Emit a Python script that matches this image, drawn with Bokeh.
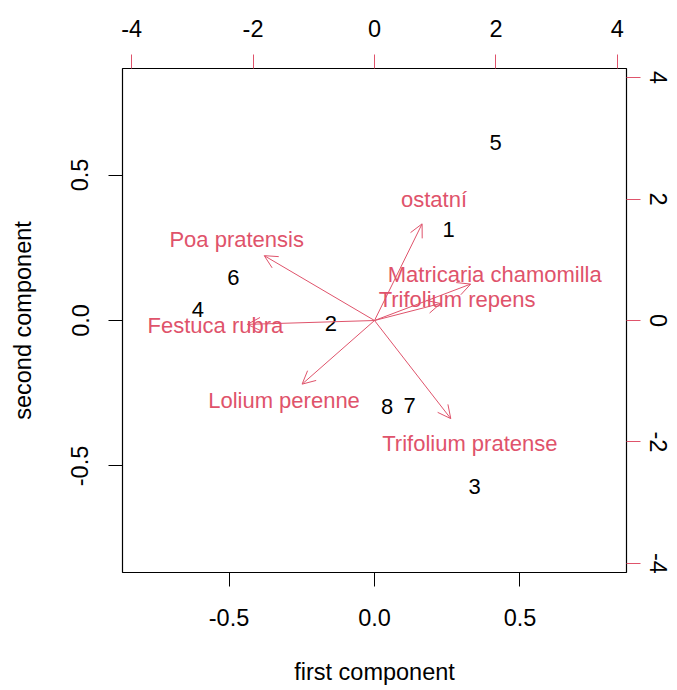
from bokeh.plotting import figure
from bokeh.models import Range1d, LinearAxis, FixedTicker, Arrow, OpenHead, ColumnDataSource
from bokeh.core.properties import value
from bokeh.embed import file_html
from bokeh.resources import INLINE

# ---- data ----
obs_labels = ["1", "2", "3", "4", "5", "6", "7", "8"]
obs_x = [0.255, -0.150, 0.344, -0.607, 0.416, -0.485, 0.121, 0.043]
obs_y = [0.314, -0.009, -0.569, 0.037, 0.611, 0.148, -0.291, -0.295]

var_labels = ["ostatní", "Poa pratensis", "Matricaria chamomilla", "Trifolium repens",
              "Festuca rubra", "Lolium perenne", "Trifolium pratense"]
var_x = [0.98, -2.27, 1.98, 1.36, -2.62, -1.49, 1.57]
var_y = [1.99, 1.335, 0.75, 0.35, -0.08, -1.31, -2.02]

prim_ticks = [-0.5, 0.0, 0.5]
prim_labels = ["-0.5", "0.0", "0.5"]
sec_ticks = [-4, -2, 0, 2, 4]
sec_labels = ["-4", "-2", "0", "2", "4"]
prim_lim = 0.866
sec_lim = 4.15

RED = "#DF536B"
FONT = "Liberation Sans"
FS = "22px"
AFS = "23.5px"

p = figure(width=677, height=690, output_backend="svg", toolbar_location=None,
           x_range=Range1d(-prim_lim, prim_lim), y_range=Range1d(-prim_lim, prim_lim),
           x_axis_label="first component", y_axis_label="second component",
           min_border_left=122, min_border_right=51, min_border_top=68, min_border_bottom=118)
p.extra_x_ranges = {"sec": Range1d(-sec_lim, sec_lim)}
p.extra_y_ranges = {"sec": Range1d(-sec_lim, sec_lim)}
p.grid.visible = False
p.outline_line_color = "black"
p.outline_line_width = 1.2
p.background_fill_color = "white"
p.border_fill_color = "white"


def style_axis(ax, ticks, labels, tick_color, standoff):
    ax.ticker = FixedTicker(ticks=ticks)
    ax.major_label_overrides = {t: l for t, l in zip(ticks, labels)}
    ax.axis_line_color = None
    ax.major_tick_line_color = tick_color
    ax.major_tick_out = 14
    ax.major_tick_in = 0
    ax.minor_tick_out = 0
    ax.minor_tick_in = 0
    ax.major_label_standoff = standoff
    ax.major_label_text_font = FONT
    ax.major_label_text_font_size = AFS
    ax.major_label_text_color = "black"
    ax.axis_label_text_font = FONT
    ax.axis_label_text_font_size = AFS
    ax.axis_label_text_font_style = "normal"
    ax.axis_label_text_color = "black"


style_axis(p.xaxis[0], prim_ticks, prim_labels, "black", 22)
p.xaxis[0].axis_label_standoff = 30
style_axis(p.yaxis[0], prim_ticks, prim_labels, "black", 20)
p.yaxis[0].major_label_orientation = "vertical"
p.yaxis[0].axis_label_standoff = 33

top = LinearAxis(x_range_name="sec")
style_axis(top, sec_ticks, sec_labels, RED, 18)
p.add_layout(top, "above")

right = LinearAxis(y_range_name="sec")
style_axis(right, sec_ticks, sec_labels, RED, 9)
right.major_label_orientation = "vertical"
p.add_layout(right, "right")

# observations (black numbers)
obs_src = ColumnDataSource(dict(x=obs_x, y=obs_y, t=obs_labels))
p.text(x="x", y="y", text="t", source=obs_src, text_align="center", text_baseline="middle",
       text_font=value(FONT), text_font_size=value(FS), text_color="black")

# variable arrows (R biplot draws arrows at 0.8 of the loading, labels at the loading)
arr_src = ColumnDataSource(dict(x0=[0.0] * len(var_x), y0=[0.0] * len(var_y),
                                x1=[0.8 * v for v in var_x], y1=[0.8 * v for v in var_y]))
p.add_layout(Arrow(end=OpenHead(size=13, line_color=RED, line_width=1),
                   x_start="x0", y_start="y0", x_end="x1", y_end="y1", source=arr_src,
                   line_color=RED, line_width=1, x_range_name="sec", y_range_name="sec"))

var_src = ColumnDataSource(dict(x=var_x, y=var_y, t=var_labels))
p.text(x="x", y="y", text="t", source=var_src, text_align="center", text_baseline="middle",
       text_font=value(FONT), text_font_size=value(FS), text_color=RED,
       x_range_name="sec", y_range_name="sec")

open("out.html", "w").write(file_html(p, INLINE))
